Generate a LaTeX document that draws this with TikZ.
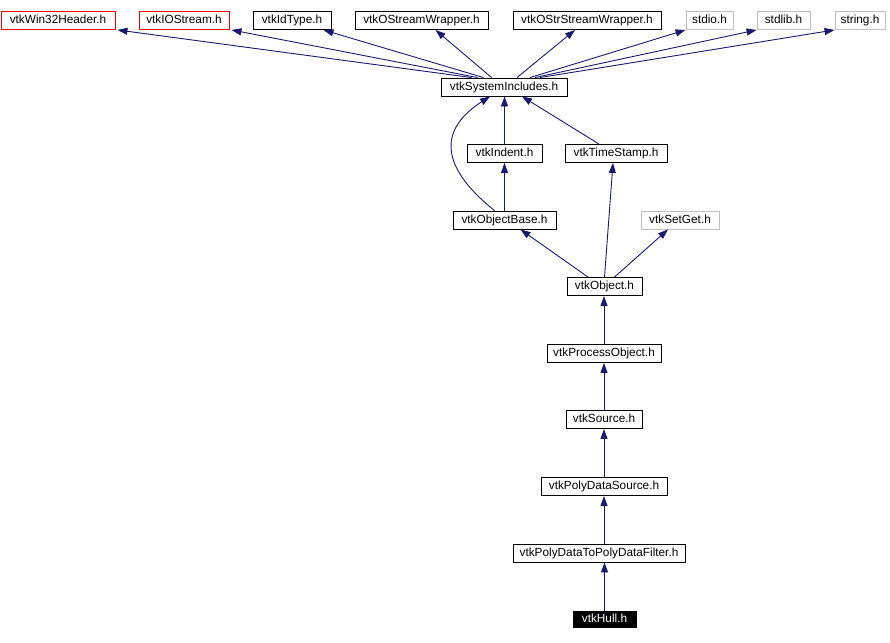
\documentclass[tikz,border=0pt]{standalone}
\usepackage{fontspec}
\setmainfont{Liberation Sans}
\usetikzlibrary{arrows.meta}
\definecolor{edgeblue}{HTML}{191970}
\definecolor{boxgray}{HTML}{BFBFBF}
\definecolor{boxred}{HTML}{FF0000}
\tikzset{
  basebox/.style={rectangle, line width=0.9pt, inner sep=0pt, minimum height=18pt, text height=8.5pt, text depth=2.5pt, font=\fontsize{11.8}{13}\selectfont, anchor=center},
  hbox/.style={basebox, draw=black},
  redbox/.style={basebox, draw=boxred},
  graybox/.style={basebox, draw=boxgray},
  curbox/.style={basebox, draw=black, fill=black, text=white, minimum height=16pt},
  edge/.style={draw=edgeblue, line width=0.9pt, -{Triangle[length=10pt,width=7pt]}}
}
\begin{document}
\begin{tikzpicture}[x=1pt,y=-1pt]
\useasboundingbox (0,0) rectangle (890,642);
% top row
\node[redbox, minimum width=114pt] (win) at (58,20.5) {vtkWin32Header.h};
\node[redbox, minimum width=90pt] (ios) at (184,20.5) {vtkIOStream.h};
\node[hbox, minimum width=78pt] (idt) at (292,20.5) {vtkIdType.h};
\node[hbox, minimum width=133pt] (osw) at (421.5,20.5) {vtkOStreamWrapper.h};
\node[hbox, minimum width=148pt] (osst) at (587,20.5) {vtkOStrStreamWrapper.h};
\node[graybox, minimum width=47pt] (stdio) at (709.5,20.5) {stdio.h};
\node[graybox, minimum width=53pt] (stdlib) at (783.5,20.5) {stdlib.h};
\node[graybox, minimum width=50pt] (string) at (860,20.5) {string.h};
% middle
\node[hbox, minimum width=126pt] (sys) at (504,87) {vtkSystemIncludes.h};
\node[hbox, minimum width=75pt] (ind) at (504.5,153.5) {vtkIndent.h};
\node[hbox, minimum width=102pt] (ts) at (616,153.5) {vtkTimeStamp.h};
\node[hbox, minimum width=103pt] (ob) at (504.5,220) {vtkObjectBase.h};
\node[graybox, minimum width=78pt] (sg) at (680,220) {vtkSetGet.h};
\node[hbox, minimum width=75pt] (obj) at (604.5,286.5) {vtkObject.h};
\node[hbox, minimum width=114pt] (po) at (604,353.5) {vtkProcessObject.h};
\node[hbox, minimum width=76pt] (src) at (604,419.5) {vtkSource.h};
\node[hbox, minimum width=126pt] (pds) at (604,486.5) {vtkPolyDataSource.h};
\node[hbox, minimum width=172pt] (pdf) at (599,553) {vtkPolyDataToPolyDataFilter.h};
\node[curbox, minimum width=63pt] (hull) at (604.5,619) {vtkHull.h};
% edges to top row
\draw[edge] ([xshift=31pt]sys.north west) -- ([xshift=2pt]win.south east);
\draw[edge] ([xshift=37pt]sys.north west) -- ([xshift=2pt]ios.south east);
\draw[edge] ([xshift=43pt]sys.north west) -- ([xshift=-8pt]idt.south east);
\draw[edge] ([xshift=51pt]sys.north west) -- ([xshift=14pt]osw.south);
\draw[edge] ([xshift=13pt]sys.north) -- ([xshift=-12pt]osst.south);
\draw[edge] ([xshift=26pt]sys.north) -- (stdio.south west);
\draw[edge] ([xshift=31pt]sys.north) -- (stdlib.south west);
\draw[edge] ([xshift=36pt]sys.north) -- (string.south west);
% middle edges
\draw[edge] (ind.north) -- (ind.north |- sys.south);
\draw[edge] ([xshift=-17pt]ts.north) -- ([xshift=18pt]sys.south);
\draw[edge] ([xshift=-10pt]ob.north) .. controls (450,175) and (430,135) .. ([xshift=-14pt]sys.south);
\draw[edge] (ob.north) -- (ob.north |- ind.south);
\draw[edge] ([xshift=-16.5pt]obj.north) -- ([xshift=16pt]ob.south);
\draw[edge] (obj.north) -- ([xshift=-3pt]ts.south);
\draw[edge] ([xshift=10pt]obj.north) -- ([xshift=-12pt]sg.south);
\draw[edge] (po.north) -- (po.north |- obj.south);
\draw[edge] (src.north) -- (src.north |- po.south);
\draw[edge] (pds.north) -- (pds.north |- src.south);
\draw[edge] ([xshift=5pt]pdf.north) -- (pds.south);
\draw[edge] (hull.north) -- (hull.north |- pdf.south);
\end{tikzpicture}
\end{document}
